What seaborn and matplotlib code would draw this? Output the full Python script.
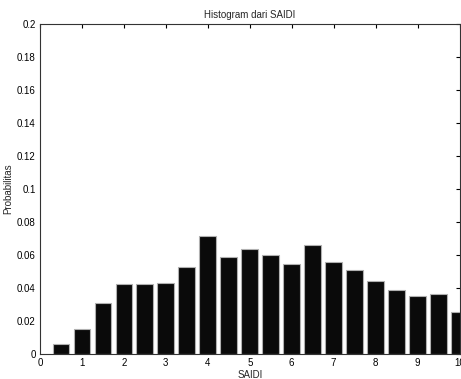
import numpy as np
import seaborn as sns
import matplotlib.pyplot as plt
from matplotlib.ticker import FormatStrFormatter

saidi_bins = [0.5, 1.0, 1.5, 2.0, 2.5, 3.0, 3.5, 4.0, 4.5, 5.0,
              5.5, 6.0, 6.5, 7.0, 7.5, 8.0, 8.5, 9.0, 9.5, 10.0]
probabilitas = [0.0061, 0.0152, 0.0310, 0.0426, 0.0426, 0.0432, 0.0530, 0.0716, 0.0590, 0.0637,
                0.0603, 0.0544, 0.0663, 0.0558, 0.0511, 0.0444, 0.0385, 0.0351, 0.0365, 0.0254]
x_ticks = list(range(0, 11))
y_ticks = [0, 0.02, 0.04, 0.06, 0.08, 0.1, 0.12, 0.14, 0.16, 0.18, 0.2]

sns.set_style('white')
plt.rcParams['font.family'] = ['Liberation Sans', 'DejaVu Sans']

fig = plt.figure(figsize=(4.61, 3.79), dpi=100)
ax = fig.add_axes([40 / 461, 25 / 379, 419.5 / 461, 330 / 379])

sns.barplot(x=saidi_bins, y=probabilitas, native_scale=True, width=0.8,
            color='#0a0a0a', saturation=1, edgecolor='#b0b0b0', linewidth=0.8, ax=ax)

ax.set_xlim(0, 10)
ax.set_ylim(0, 0.2)
ax.set_xticks(x_ticks)
ax.set_yticks(y_ticks)
ax.yaxis.set_major_formatter(FormatStrFormatter('%g'))
ax.tick_params(direction='in', length=3, width=0.8, labelsize=7, colors='black',
               top=True, right=True, pad=3)
for s in ax.spines.values():
    s.set_visible(True)
    s.set_color('#333333')
    s.set_linewidth(0.8)

ax.set_title('Histogram dari SAIDI', fontsize=7, pad=4)
ax.set_xlabel('SAIDI', fontsize=7, labelpad=1)
ax.set_ylabel('Probabilitas', fontsize=7, labelpad=3)

fig.savefig('out.png', dpi=100)
